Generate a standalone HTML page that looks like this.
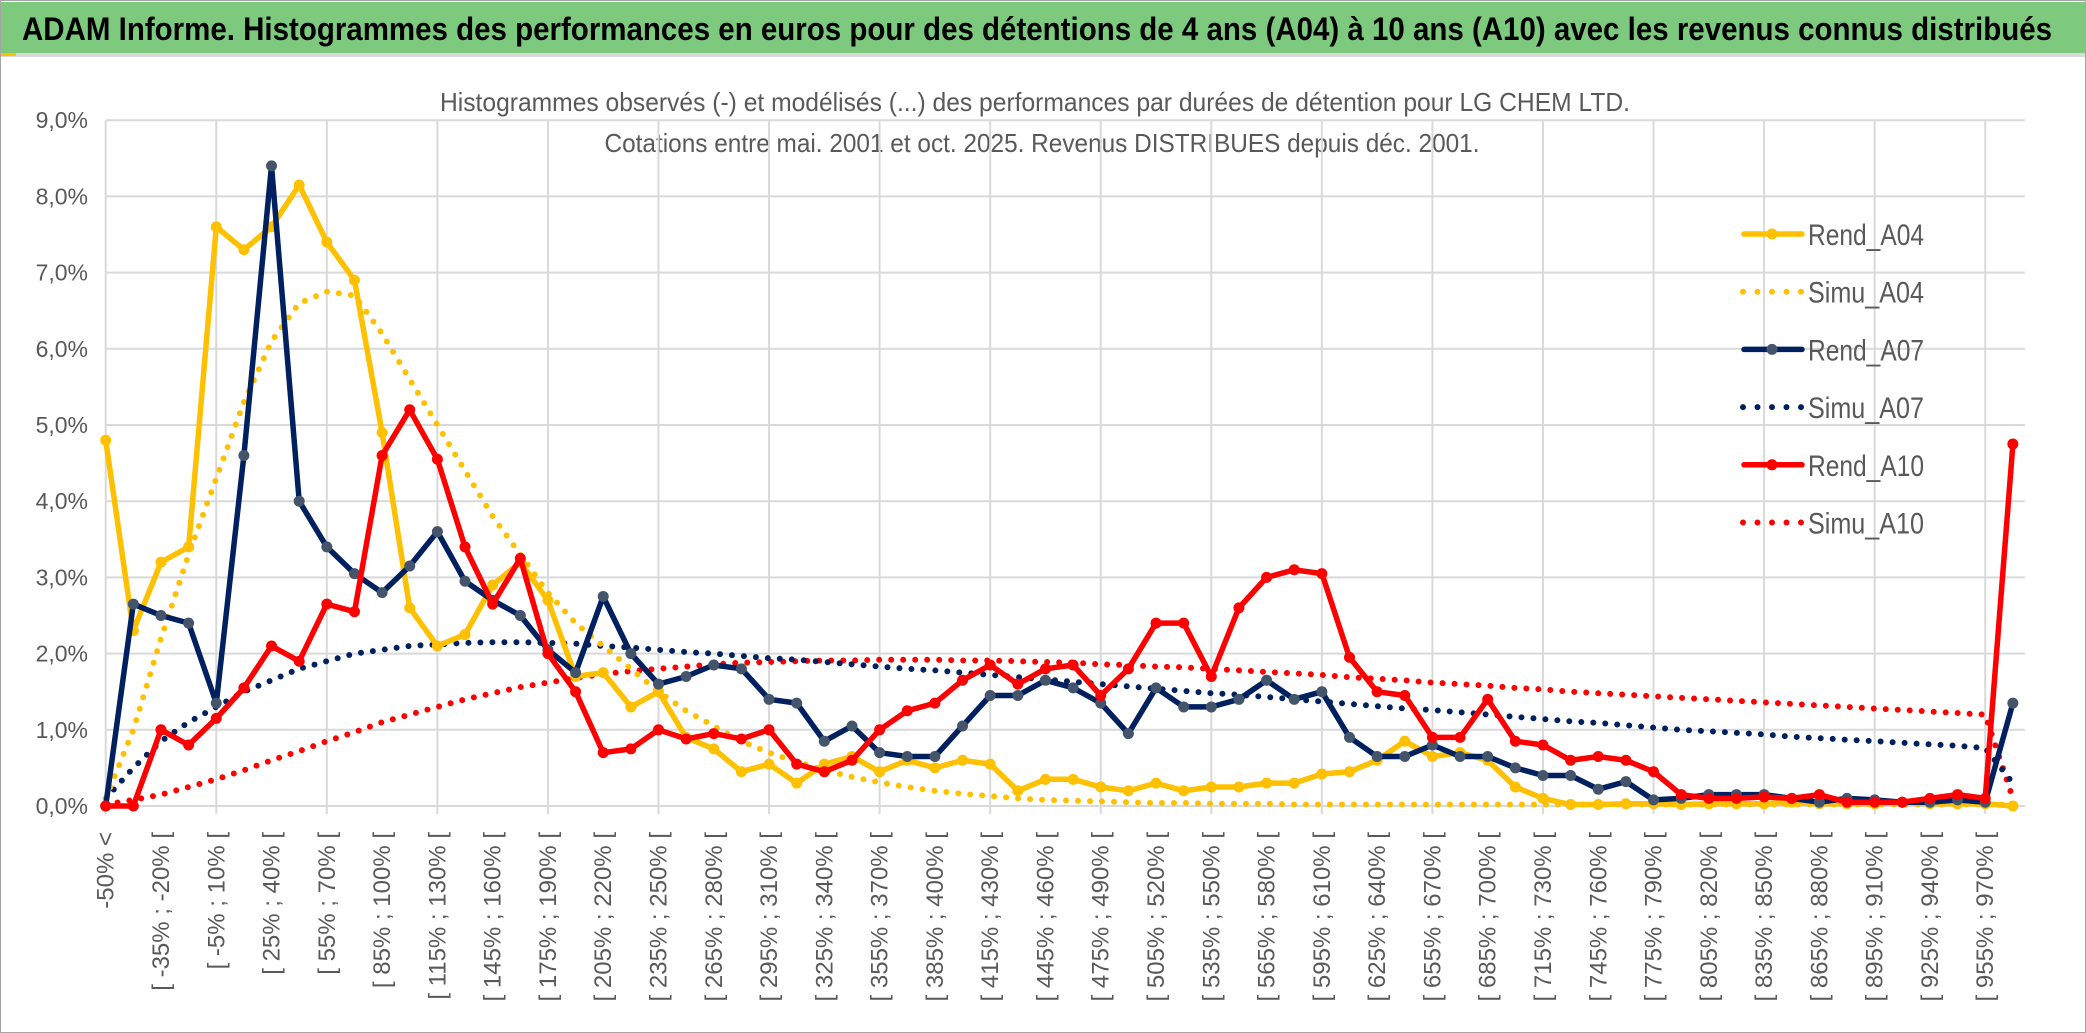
<!DOCTYPE html>
<html><head><meta charset="utf-8"><style>
html,body{margin:0;padding:0;background:#fff;}
svg{display:block;font-family:"Liberation Sans",sans-serif;}
</style></head><body>
<svg id="chart" width="2086" height="1033" viewBox="0 0 2086 1033" xmlns="http://www.w3.org/2000/svg">
<rect x="0.5" y="0.5" width="2085" height="1032" fill="#fff" stroke="#a6a6a6"/>
<rect x="1" y="2" width="2084" height="51" fill="#7dc97e"/>
<rect x="1" y="53" width="2084" height="4" fill="#d9d9d9"/>
<rect x="1" y="53" width="15" height="3" fill="#ffc000"/>
<text x="22" y="40" font-size="32" font-weight="bold" fill="#000" textLength="2030" lengthAdjust="spacingAndGlyphs">ADAM Informe. Histogrammes des performances en euros pour des détentions de 4 ans (A04) à 10 ans (A10) avec les revenus connus distribués</text>
<text x="1035" y="111" font-size="26" fill="#595959" text-anchor="middle" textLength="1190" lengthAdjust="spacingAndGlyphs">Histogrammes observés (-) et modélisés (...) des performances par durées de détention pour LG CHEM LTD.</text>
<text x="1042" y="152" font-size="26" fill="#595959" text-anchor="middle" textLength="875" lengthAdjust="spacingAndGlyphs">Cotations entre mai. 2001 et oct. 2025. Revenus DISTRIBUES depuis déc. 2001.</text>
<g id="grid"></g><g id="yaxis"></g><g id="xaxis"></g><g id="series"></g><g id="legend"></g>
</svg>
<script>
const categories=[];
const yTicks=[0,1,2,3,4,5,6,7,8,9];
const rendA04=[4.8,2.3,3.2,3.4,7.6,7.3,7.6,8.15,7.4,6.9,4.9,2.6,2.1,2.25,2.9,3.2,2.7,1.7,1.75,1.3,1.5,0.9,0.75,0.45,0.55,0.3,0.55,0.65,0.45,0.6,0.5,0.6,0.55,0.2,0.35,0.35,0.25,0.2,0.3,0.2,0.25,0.25,0.3,0.3,0.42,0.45,0.6,0.85,0.65,0.7,0.6,0.25,0.1,0.02,0.02,0.03,0.03,0.02,0.03,0.03,0.03,0.05,0.03,0.03,0.03,0.05,0.03,0.03,0.03,0.0];
const simuA04=[0.1,1.0,2.2,3.3,4.3,5.3,6.1,6.6,6.75,6.7,6.2,5.6,5.0,4.4,3.8,3.3,2.8,2.4,2.1,1.8,1.5,1.25,1.05,0.85,0.7,0.58,0.47,0.38,0.31,0.25,0.2,0.16,0.13,0.1,0.08,0.07,0.06,0.05,0.04,0.04,0.03,0.03,0.03,0.02,0.02,0.02,0.02,0.02,0.02,0.02,0.02,0.02,0.02,0.02,0.02,0.02,0.02,0.02,0.02,0.02,0.02,0.02,0.02,0.02,0.02,0.02,0.02,0.02,0.02,0.02];
const rendA07=[0.0,2.65,2.5,2.4,1.35,4.6,8.4,4.0,3.4,3.05,2.8,3.15,3.6,2.95,2.7,2.5,2.05,1.75,2.75,2.0,1.6,1.7,1.85,1.8,1.4,1.35,0.85,1.05,0.7,0.65,0.65,1.05,1.45,1.45,1.65,1.55,1.35,0.95,1.55,1.3,1.3,1.4,1.65,1.4,1.5,0.9,0.65,0.65,0.8,0.65,0.65,0.5,0.4,0.4,0.22,0.32,0.08,0.1,0.15,0.15,0.15,0.1,0.05,0.1,0.08,0.05,0.05,0.08,0.05,1.35];
const simuA07=[0.1,0.5,0.85,1.1,1.3,1.5,1.65,1.8,1.9,2.0,2.05,2.1,2.12,2.14,2.15,2.15,2.14,2.13,2.1,2.08,2.05,2.02,2.0,1.97,1.94,1.92,1.89,1.86,1.83,1.8,1.78,1.75,1.72,1.69,1.66,1.63,1.6,1.57,1.54,1.51,1.48,1.46,1.43,1.4,1.37,1.34,1.31,1.28,1.26,1.23,1.2,1.17,1.14,1.11,1.09,1.06,1.03,1.0,0.98,0.96,0.94,0.91,0.89,0.87,0.85,0.83,0.81,0.79,0.76,0.3];
const rendA10=[0.0,0.0,1.0,0.8,1.15,1.55,2.1,1.9,2.65,2.55,4.6,5.2,4.55,3.4,2.65,3.25,2.0,1.5,0.7,0.75,1.0,0.88,0.95,0.88,1.0,0.55,0.45,0.6,1.0,1.25,1.35,1.65,1.85,1.6,1.8,1.85,1.45,1.8,2.4,2.4,1.7,2.6,3.0,3.1,3.05,1.95,1.5,1.45,0.9,0.9,1.4,0.85,0.8,0.6,0.65,0.6,0.45,0.15,0.1,0.1,0.12,0.1,0.15,0.05,0.05,0.05,0.1,0.15,0.1,4.75];
const simuA10=[0.02,0.08,0.15,0.25,0.35,0.47,0.6,0.72,0.85,0.97,1.1,1.2,1.3,1.4,1.48,1.56,1.62,1.68,1.73,1.77,1.8,1.83,1.86,1.88,1.89,1.9,1.91,1.91,1.92,1.92,1.92,1.91,1.91,1.9,1.89,1.88,1.86,1.85,1.83,1.82,1.8,1.78,1.76,1.74,1.72,1.69,1.67,1.65,1.62,1.6,1.58,1.55,1.53,1.5,1.48,1.46,1.44,1.42,1.4,1.38,1.36,1.34,1.32,1.3,1.28,1.26,1.24,1.22,1.2,0.1];
categories.push('-50% <');
for(let k=1;k<70;k++){const a=-50+15*(k-1);categories.push('[ '+a+'% ; '+(a+15)+'% [');}

const NS='http://www.w3.org/2000/svg';
const X0=105.7,DX=27.64,Y0=806,DY=76.2;
function xs(i){return X0+DX*i;}
function ys(v){return Y0-DY*v;}
function mk(tag,attrs,parent){const e=document.createElementNS(NS,tag);for(const k in attrs)e.setAttribute(k,attrs[k]);parent.appendChild(e);return e;}
const grid=document.getElementById('grid'),yax=document.getElementById('yaxis'),xax=document.getElementById('xaxis'),ser=document.getElementById('series'),leg=document.getElementById('legend');
yTicks.forEach(t=>{
  const l=mk('line',{x1:X0,x2:xs(categories.length-1)+12,y1:ys(t),y2:ys(t),stroke:'#d9d9d9','stroke-width':2},grid);
  
  
  const tx=mk('text',{x:88,y:ys(t)+8,'font-size':23,fill:'#595959','text-anchor':'end'},yax);
  tx.textContent=t.toFixed(1).replace('.',',')+'%';
  
  
});
for(let i=0;i<categories.length;i+=4){
  const l=mk('line',{x1:xs(i),x2:xs(i),y1:ys(9),y2:Y0+8,stroke:'#d9d9d9','stroke-width':2},grid);
  
  
}
categories.forEach((c,i)=>{
  if(i%2)return;
  const x=xs(i)+8,y=832;
  const tx=mk('text',{x:x,y:y,'font-size':24,fill:'#595959','text-anchor':'end',transform:'rotate(-90 '+x+' '+y+')'},xax);
  tx.textContent=c;
  
  
});
function pts(arr){return arr.map((v,i)=>xs(i).toFixed(1)+','+ys(v).toFixed(1)).join(' ');}
function dotted(arr,color,name){
  const p=mk('polyline',{points:pts(arr),fill:'none',stroke:color,'stroke-width':6,'stroke-linecap':'round','stroke-dasharray':'0 12'},ser);
  
  
}
function solid(arr,color,mcolor,name){
  const p=mk('polyline',{points:pts(arr),fill:'none',stroke:color,'stroke-width':5.5,'stroke-linejoin':'round'},ser);
  
  
  arr.forEach((v,i)=>{
    const c=mk('circle',{cx:xs(i),cy:ys(v),r:5.5,fill:mcolor},ser);
    
    
  });
}
dotted(simuA10,'#ff0000','simu-a10-line');
dotted(simuA07,'#002060','simu-a07-line');
dotted(simuA04,'#ffc000','simu-a04-line');
solid(rendA04,'#ffc000','#ffc000','rend-a04-line');
solid(rendA07,'#002060','#44546a','rend-a07-line');
solid(rendA10,'#ff0000','#ff0000','rend-a10-line');
const legendItems=[['Rend_A04','#ffc000','#ffc000',false],['Simu_A04','#ffc000',null,true],['Rend_A07','#002060','#44546a',false],['Simu_A07','#002060',null,true],['Rend_A10','#ff0000','#ff0000',false],['Simu_A10','#ff0000',null,true]];
legendItems.forEach((it,k)=>{
  const y=234+57.7*k;
  const g=mk('g',{},leg);
  
  
  if(it[3]){mk('line',{x1:1743,x2:1803,y1:y,y2:y,stroke:it[1],'stroke-width':6,'stroke-linecap':'round','stroke-dasharray':'0 14.5'},g);}
  else{mk('line',{x1:1744,x2:1802,y1:y,y2:y,stroke:it[1],'stroke-width':5.5,'stroke-linecap':'round'},g);mk('circle',{cx:1772,cy:y,r:5.5,fill:it[2]},g);}
  const t=mk('text',{x:1808,y:y+11,'font-size':30,fill:'#595959',textLength:116,lengthAdjust:'spacingAndGlyphs'},g);
  t.textContent=it[0];
});
</script>
</body></html>
